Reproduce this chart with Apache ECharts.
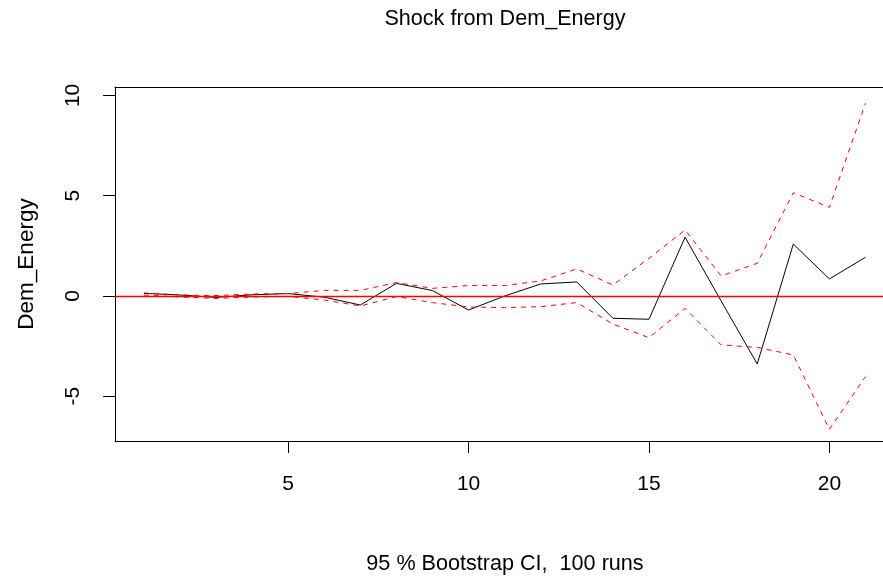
<!DOCTYPE html>
<html>
<head>
<meta charset="utf-8">
<script src="https://cdn.jsdelivr.net/npm/echarts@6/dist/echarts.min.js"></script>
<style>
html,body{margin:0;padding:0;background:#fff;}
#chart{width:883px;height:579px;}
</style>
</head>
<body>
<div id="chart"></div>
<script>
const horizons = [1,2,3,4,5,6,7,8,9,10,11,12,13,14,15,16,17,18,19,20,21];
const irf   = [0.13,0.05,-0.07,0.06,0.12,-0.06,-0.45,0.63,0.27,-0.70,0.00,0.60,0.70,-1.11,-1.16,2.93,-0.25,-3.39,2.59,0.85,1.93];
const upper = [0.15,0.05,0.02,0.10,0.12,0.28,0.28,0.67,0.38,0.52,0.52,0.75,1.35,0.55,1.88,3.29,1.00,1.63,5.15,4.42,9.61];
const lower = [0.05,-0.05,-0.12,-0.05,-0.02,-0.20,-0.50,-0.03,-0.33,-0.55,-0.58,-0.53,-0.33,-1.40,-2.08,-0.62,-2.44,-2.56,-2.94,-6.65,-4.02];
const xTicks = [5,10,15,20];
const yTicks = [-5,0,5,10];
const titleText = 'Shock from Dem_Energy';
const subText = '95 % Bootstrap CI,  100 runs';
const yName = 'Dem_Energy';

const pair = arr => horizons.map((h,i)=>[h,arr[i]]);
const font = 'Liberation Sans, Arial, sans-serif';

const chart = echarts.init(document.getElementById('chart'));
chart.setOption({
  animation:false,
  backgroundColor:'#fff',
  title:[
    {text:titleText,left:505,top:8,textAlign:'center',padding:0,
     textStyle:{fontFamily:font,fontSize:21.6,fontWeight:'normal',color:'#000'}},
    {text:subText,left:505,top:553,textAlign:'center',padding:0,
     textStyle:{fontFamily:font,fontSize:21.6,fontWeight:'normal',color:'#000'}}
  ],
  grid:{left:115,top:87,width:768,height:354,containLabel:false},
  xAxis:[
    {type:'value',min:0.2,max:21.486,position:'bottom',
     axisLine:{show:true,onZero:false,lineStyle:{color:'#000',width:1}},
     axisTick:{show:true,customValues:xTicks,length:12,lineStyle:{color:'#000'}},
     axisLabel:{customValues:xTicks,margin:33,fontFamily:font,fontSize:21,color:'#000'},
     splitLine:{show:false}},
    {type:'value',min:0.2,max:21.486,position:'top',
     axisLine:{show:true,onZero:false,lineStyle:{color:'#000',width:1}},
     axisTick:{show:false},axisLabel:{show:false},splitLine:{show:false}}
  ],
  yAxis:{type:'value',min:-7.23,max:10.42,
     name:yName,nameLocation:'middle',nameGap:77,nameRotate:90,
     nameTextStyle:{fontFamily:font,fontSize:22.5,color:'#000'},
     axisLine:{show:true,onZero:false,lineStyle:{color:'#000',width:1}},
     axisTick:{show:true,customValues:yTicks,length:12,lineStyle:{color:'#000'}},
     axisLabel:{customValues:yTicks,rotate:90,margin:31,fontFamily:font,fontSize:21,color:'#000'},
     splitLine:{show:false}},
  series:[
    {type:'line',data:pair(irf),symbol:'none',lineStyle:{color:'#000',width:1},
     markLine:{symbol:'none',silent:true,label:{show:false},
       lineStyle:{color:'#ff0000',width:1.3,type:'solid'},data:[{yAxis:0}]}},
    {type:'line',data:pair(upper),symbol:'none',lineStyle:{color:'#ff0000',width:1,type:[5,5]}},
    {type:'line',data:pair(lower),symbol:'none',lineStyle:{color:'#ff0000',width:1,type:[5,5]}}
  ]
});
</script>
</body>
</html>
